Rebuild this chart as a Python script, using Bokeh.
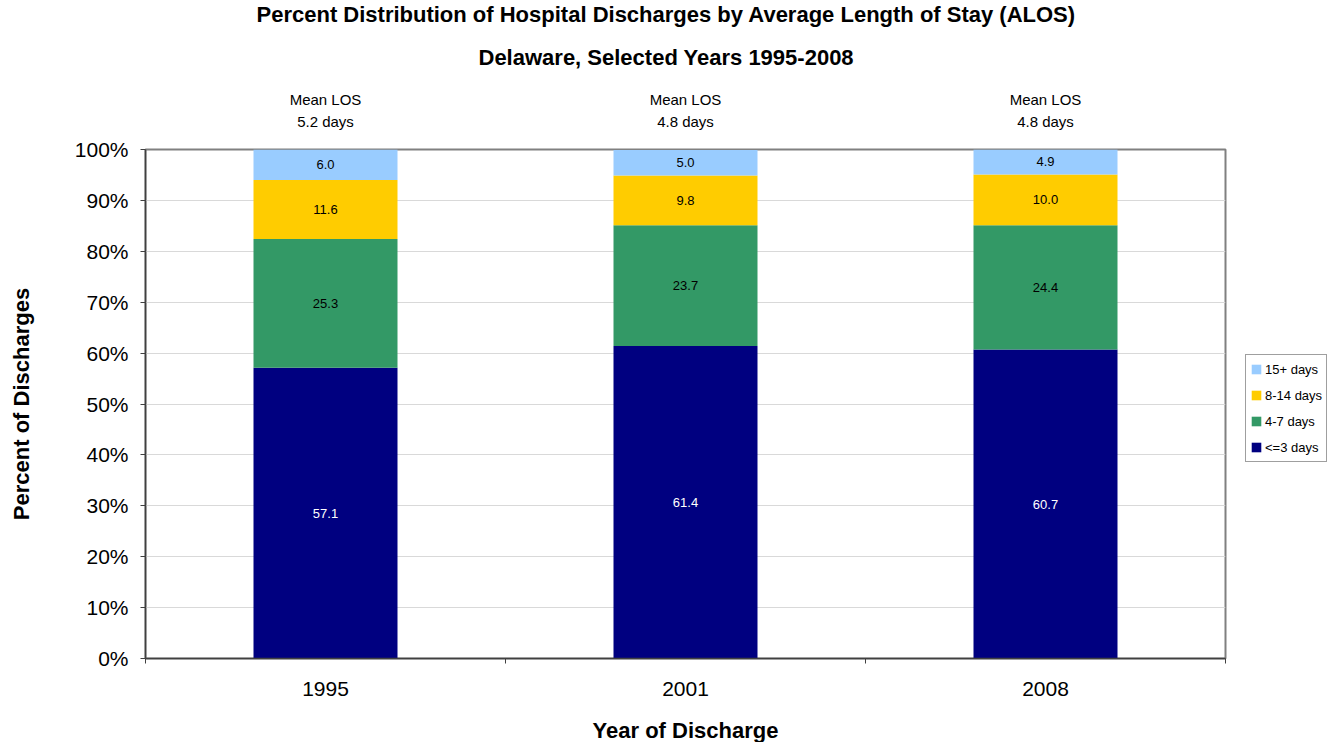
import numpy as np
from bokeh.plotting import figure
from bokeh.models import (ColumnDataSource, Range1d, FixedTicker, PrintfTickFormatter,
                          Legend, LegendItem, LinearAxis, Title)
from bokeh.core.properties import value
from bokeh.embed import file_html
from bokeh.resources import INLINE

# ---- data ----
years = ["1995", "2001", "2008"]
le3 = [57.1, 61.4, 60.7]
d4_7 = [25.3, 23.7, 24.4]
d8_14 = [11.6, 9.8, 10.0]
d15 = [6.0, 5.0, 4.9]
mean_los = ["5.2 days", "4.8 days", "4.8 days"]
series = ["le3", "d4_7", "d8_14", "d15"]
series_labels = ["<=3 days", "4-7 days", "8-14 days", "15+ days"]
colors = ["#000080", "#339966", "#FFCC00", "#99CCFF"]
label_colors = ["white", "black", "black", "black"]
y_ticks = [0, 10, 20, 30, 40, 50, 60, 70, 80, 90, 100]

FONT = "Liberation Sans"

xpos = np.arange(len(years)) + 0.5
data = dict(x=xpos, le3=le3, d4_7=d4_7, d8_14=d8_14, d15=d15)
src = ColumnDataSource(data)

p = figure(frame_width=1080, frame_height=509,
           x_range=Range1d(0, len(years)), y_range=Range1d(0, 100),
           output_backend="svg", toolbar_location=None,
           min_border_left=145, min_border_right=105,
           min_border_top=149, min_border_bottom=0,
           background_fill_color="white", border_fill_color="white")

rs = p.vbar_stack(series, x="x", width=0.4, source=src, color=colors, line_color=None)

# segment value labels
lx, ly, lt, lc = [], [], [], []
for i in range(len(years)):
    base = 0.0
    for s, col in zip(series, label_colors):
        v = data[s][i]
        lx.append(xpos[i]); ly.append(base + v / 2.0)
        lt.append(f"{v:.1f}"); lc.append(col)
        base += v
p.text(x=lx, y=ly, text=lt, text_color=lc, text_align="center", text_baseline="middle",
       text_font=value(FONT), text_font_size="13px")

# ---- axes ----
p.xaxis.ticker = FixedTicker(ticks=list(xpos), minor_ticks=list(range(len(years) + 1)))
p.xaxis.major_label_overrides = {float(x): y for x, y in zip(xpos, years)}
p.xaxis.major_tick_out = 0
p.xaxis.major_tick_in = 0
p.xaxis.minor_tick_out = 5
p.xaxis.minor_tick_in = 0
p.xaxis.minor_tick_line_color = "#404040"
p.xaxis.major_label_standoff = 18
p.xaxis.axis_label = "Year of Discharge"
p.xaxis.axis_label_standoff = 19

p.yaxis.ticker = FixedTicker(ticks=y_ticks)
p.yaxis.formatter = PrintfTickFormatter(format="%d%%")
p.yaxis.major_tick_out = 5
p.yaxis.major_tick_in = 0
p.yaxis.minor_tick_out = 0
p.yaxis.minor_tick_in = 0
p.yaxis.major_label_standoff = 12
p.yaxis.axis_label = "Percent of Discharges"
p.yaxis.axis_label_standoff = 38

for ax in (p.xaxis, p.yaxis):
    ax.axis_line_color = "#404040"
    ax.axis_line_width = 1.5
    ax.major_tick_line_color = "#404040"
    ax.major_label_text_font = FONT
    ax.major_label_text_font_size = "21px"
    ax.major_label_text_color = "black"
    ax.axis_label_text_font = FONT
    ax.axis_label_text_font_size = "22px"
    ax.axis_label_text_font_style = "bold"
    ax.axis_label_text_color = "black"

# top axis carrying the Mean LOS annotations
top = LinearAxis(ticker=FixedTicker(ticks=list(xpos)),
                 major_label_overrides={float(x): f"Mean LOS\n{m}" for x, m in zip(xpos, mean_los)},
                 axis_line_color=None, major_tick_line_color=None, minor_tick_line_color=None,
                 major_tick_out=0, major_tick_in=0, minor_tick_out=0, minor_tick_in=0,
                 major_label_standoff=20, major_label_text_font=FONT,
                 major_label_text_font_size="15px", major_label_text_line_height=1.25,
                 major_label_text_color="black")
p.add_layout(top, "above")

# titles
p.add_layout(Title(text="Delaware, Selected Years 1995-2008", align="left", offset=333,
                   text_font=FONT, text_font_size="22px", text_font_style="bold",
                   text_color="black", standoff=38), "above")
p.add_layout(Title(text="Percent Distribution of Hospital Discharges by Average Length of Stay (ALOS)",
                   align="left", offset=111, text_font=FONT, text_font_size="22px",
                   text_font_style="bold", text_color="black", standoff=-7), "above")

# source note (cut off at the page bottom, as in the original)
p.add_layout(Title(text="Source:  Delaware Health Statistics Center", align="right", offset=-87,
                   text_font=FONT, text_font_size="16px", text_font_style="normal",
                   text_color="black", standoff=-14), "below")

p.xgrid.visible = False
p.ygrid.ticker = FixedTicker(ticks=y_ticks)
p.ygrid.grid_line_color = "#d9d9d9"
p.outline_line_color = "#808080"
p.outline_line_width = 2

# legend (top item = top of stack)
items = [LegendItem(label=lab, renderers=[r]) for lab, r in zip(series_labels, rs)][::-1]
legend = Legend(items=items, location=(20, 196), margin=0, padding=4, spacing=6,
                label_height=20, glyph_height=12, glyph_width=12, label_standoff=3,
                label_text_font=FONT, label_text_font_size="13px", label_text_color="black",
                border_line_color="#404040", border_line_width=1,
                background_fill_color="white")
p.add_layout(legend, "right")

open("out.html", "w").write(file_html(p, INLINE))
